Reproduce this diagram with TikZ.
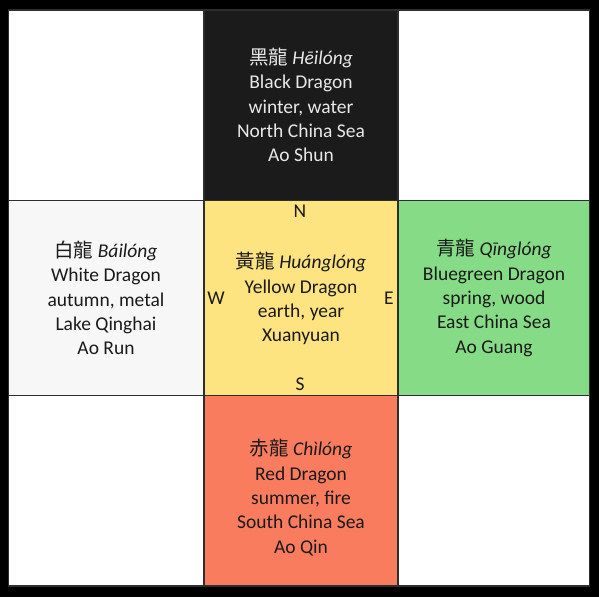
\documentclass[tikz,border=0pt]{standalone}
\usepackage{fontspec}
\setmainfont{Carlito}
\newfontfamily\cjk{Noto Sans CJK TC}
\definecolor{nightcell}{HTML}{1B1B1B}
\definecolor{earthcell}{HTML}{FEE381}
\definecolor{woodcell}{HTML}{86DC86}
\definecolor{firecell}{HTML}{F97C5F}
\definecolor{metalcell}{HTML}{F7F7F7}
\definecolor{inkdark}{HTML}{1A1A1A}
\definecolor{inklight}{HTML}{E8E8E8}
\definecolor{gridgray}{HTML}{2E2E2E}
\newcommand{\hanzi}[1]{{\cjk #1}}
\begin{document}
\begin{tikzpicture}[x=1pt,y=1pt,
    celltext/.style={align=center, text=inkdark,
        font=\fontsize{19.5}{24.3}\selectfont},
    compass/.style={text=inkdark, font=\fontsize{19.5}{24.3}\selectfont},
    cellline/.style={draw=gridgray, line width=1.2pt}]
        \fill [black] (0,0) rectangle (599,597);
        % top row
        \draw [cellline, fill=white] (8.5,396.5) rectangle (204,587);
        \draw [cellline, fill=nightcell] (204,396.5) rectangle (398,587);
        \draw [cellline, fill=white] (398,396.5) rectangle (589.5,587);
        % middle row
        \draw [cellline, fill=metalcell] (8.5,201.5) rectangle (204,396.5);
        \draw [cellline, fill=earthcell] (204,201.5) rectangle (398,396.5);
        \draw [cellline, fill=woodcell] (398,201.5) rectangle (589.5,396.5);
        % bottom row
        \draw [cellline, fill=white] (8.5,11) rectangle (204,201.5);
        \draw [cellline, fill=firecell] (204,11) rectangle (398,201.5);
        \draw [cellline, fill=white] (398,11) rectangle (589.5,201.5);
        % dragons
        \node (north) [celltext, text=inklight] at (301,492)
            {\hanzi{黑龍} \textit{Hēilóng}\\Black Dragon\\winter, water\\North China Sea\\Ao Shun};
        \node (west) [celltext] at (106,299)
            {\hanzi{白龍} \textit{Báilóng}\\White Dragon\\autumn, metal\\Lake Qinghai\\Ao Run};
        \node (centre) [celltext] at (301,298.5)
            {\hanzi{黃龍} \textit{Huánglóng}\\Yellow Dragon\\earth, year\\Xuanyuan};
        \node (east) [celltext] at (494,299)
            {\hanzi{青龍} \textit{Qīnglóng}\\Bluegreen Dragon\\spring, wood\\East China Sea\\Ao Guang};
        \node (south) [celltext] at (301,99.5)
            {\hanzi{赤龍} \textit{Chìlóng}\\Red Dragon\\summer, fire\\South China Sea\\Ao Qin};
        % compass points
        \node (n) [compass] at (300,386) {N};
        \node (s) [compass] at (300,213) {S};
        \node (w) [compass] at (216,299) {W};
        \node (e) [compass] at (389,299) {E};
\end{tikzpicture}
\end{document}
